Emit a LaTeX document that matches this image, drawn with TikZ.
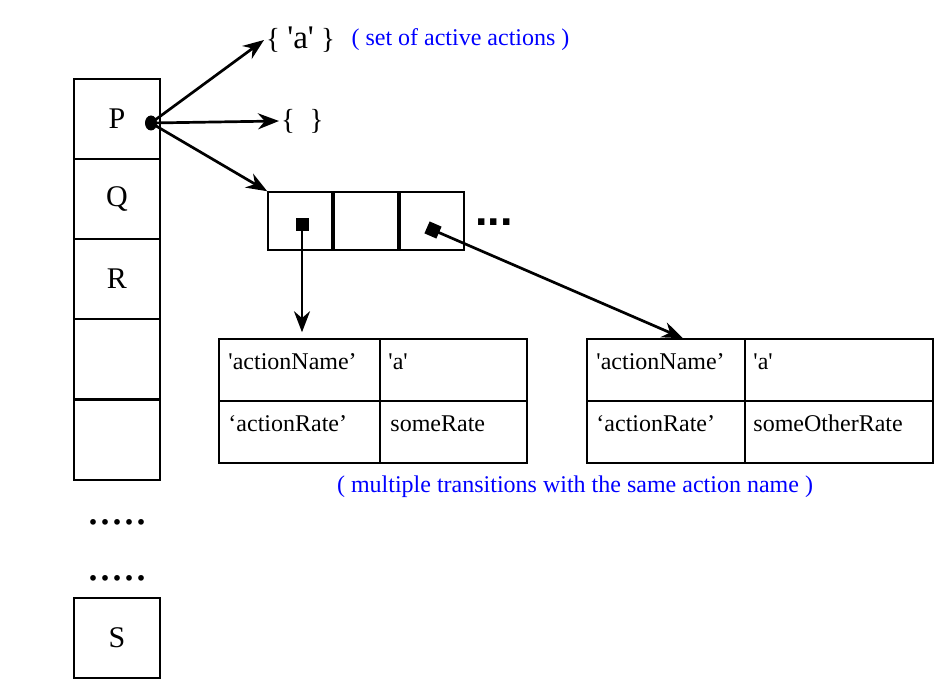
\documentclass[tikz,border=0pt]{standalone}
\usepackage{fontspec}
\setmainfont{Liberation Serif}
\newfontfamily\arialfont{Liberation Sans}
\usetikzlibrary{arrows.meta, calc}
\definecolor{ink}{HTML}{000000}
\definecolor{noteblue}{HTML}{0000FF}

\begin{document}
\begin{tikzpicture}[
    x=1pt, y=-1pt,
    arr/.style={-{Stealth[length=21pt, width=16pt]}, line width=2.7pt, ink},
    every node/.style={text=ink},
    % Stack cell (state table)
    scell/.style={rectangle, draw=ink, line width=1.5pt, minimum width=86pt,
                  minimum height=80pt, inner sep=0pt, font=\fontsize{30}{34}\selectfont},
    % Array slot
    acell/.style={rectangle, draw=ink, line width=1.5pt, minimum width=64pt,
                  minimum height=58pt, inner sep=0pt},
    % Transition table cell
    tcell/.style={rectangle, draw=ink, line width=1.5pt, minimum height=62pt,
                  inner sep=0pt},
    ttext/.style={anchor=base west, inner sep=0pt, font=\fontsize{24}{28}\selectfont},
    note/.style={text=noteblue, font=\fontsize{24}{28}\selectfont},
    ptr/.style={rectangle, fill=ink, minimum size=13pt, inner sep=0pt}
]
\useasboundingbox (0,0) rectangle (948,698);

% ========== Left column: states ==========
\node[scell] (p) at (117,119) {P};
\node[scell] (q) at (117,199) {Q};
\node[scell] (r) at (117,279) {R};
\node[scell] (e1) at (117,359) {};
\node[scell] (e2) at (117,440) {};
\node[font=\fontsize{48}{48}\selectfont] (dotsA) at (117,522) {.....};
\node[font=\fontsize{48}{48}\selectfont] (dotsB) at (117,578) {.....};
\node[scell] (s) at (117,638) {S};

\coordinate (pdot) at (151,123);
\fill[ink] (pdot) ellipse (6pt and 7.5pt);

% ========== Top: action sets ==========
\node[anchor=west, inner sep=2pt, font=\fontsize{29}{32}\selectfont] (act) at (264,40)
    {\{ {\fontsize{33}{36}\selectfont\textquotesingle a\textquotesingle}\ \}};
\node[note, anchor=west] (actnote) at (348,40) {( set of active actions )};
\node[anchor=west, inner sep=2pt, font=\fontsize{29}{32}\selectfont] (none) at (279,121)
    {\{\ \ \}};

% ========== Array of transitions ==========
\node[acell] (a1) at (300,221) {};
\node[acell] (a2) at (366,221) {};
\node[acell] (a3) at (432,221) {};
\node[font=\arialfont\bfseries\fontsize{45}{45}\selectfont] (more) at (494,222) {...};

\node[ptr] (sq1) at (302,224) {};
\node[ptr, rotate=-23.6] (sq3) at (433,230) {};

% ========== Transition tables ==========
% --- first ---
\node[tcell, minimum width=161pt] (tA11) at (299.5,370) {};
\node[tcell, minimum width=147pt] (tA12) at (453.5,370) {};
\node[tcell, minimum width=161pt] (tA21) at (299.5,432) {};
\node[tcell, minimum width=147pt] (tA22) at (453.5,432) {};
\node[ttext] at ($(tA11.north west)+(10,31)$) {\textquotesingle actionName'};
\node[ttext] at ($(tA12.north west)+(9,31)$) {\textquotesingle a\textquotesingle};
\node[ttext] at ($(tA21.north west)+(10,31)$) {`actionRate'};
\node[ttext] at ($(tA22.north west)+(11,31)$) {someRate};

% --- second ---
\node[tcell, minimum width=158pt] (tB11) at (666,370) {};
\node[tcell, minimum width=188pt] (tB12) at (839,370) {};
\node[tcell, minimum width=158pt] (tB21) at (666,432) {};
\node[tcell, minimum width=188pt] (tB22) at (839,432) {};
\node[ttext] at ($(tB11.north west)+(10,31)$) {\textquotesingle actionName'};
\node[ttext] at ($(tB12.north west)+(9,31)$) {\textquotesingle a\textquotesingle};
\node[ttext] at ($(tB21.north west)+(10,31)$) {`actionRate'};
\node[ttext] at ($(tB22.north west)+(9,31)$) {someOtherRate};

\node[note] (multnote) at (575,487) {( multiple transitions with the same action name )};

% ========== Arrows ==========
\draw[arr] (pdot) -- (act.west);
\draw[arr] (pdot) -- (none.west);
\draw[arr] (pdot) -- (a1.north west);
\draw[arr, shorten >=6pt] (sq1.center) -- (sq1.center |- tA11.north);
\draw[arr] (sq3.center) -- ([xshift=17pt]tB11.north);

\end{tikzpicture}
\end{document}
